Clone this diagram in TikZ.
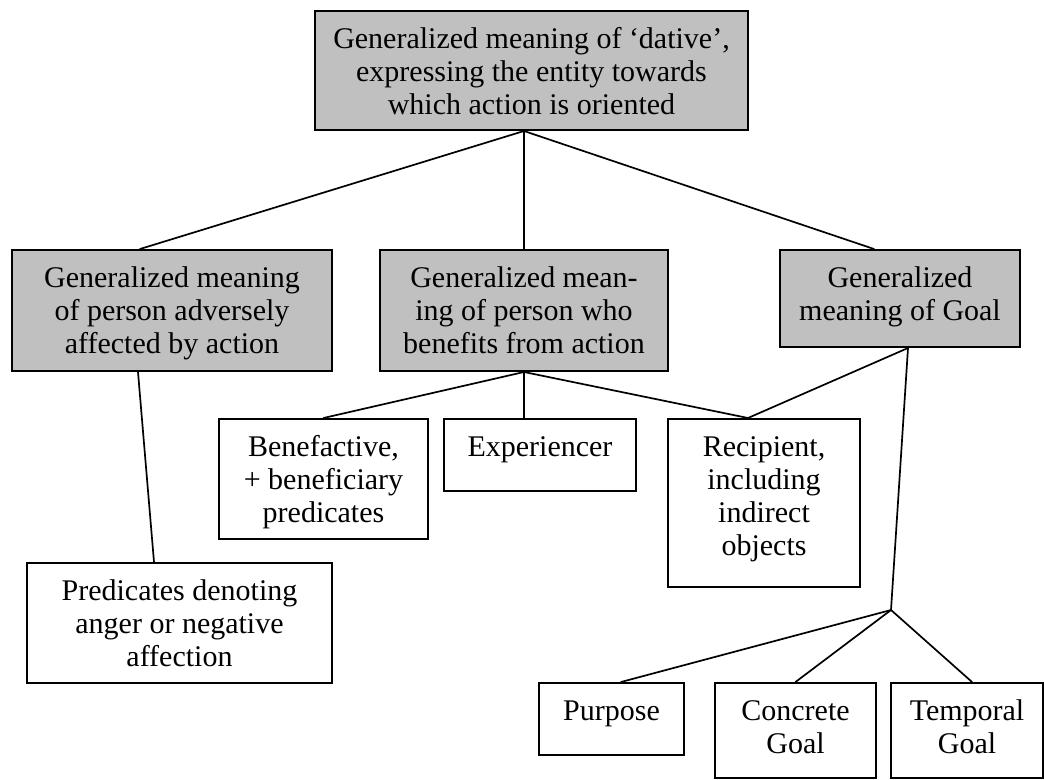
\documentclass[tikz,border=0pt]{standalone}
\usepackage{fontspec}
\setmainfont{Liberation Serif}
\definecolor{boxgray}{RGB}{192,192,192}
% box contents: width, height, text (set from the top of the box)
\newcommand\boxtext[3]{\parbox[c][#2pt][t]{#1pt}{\centering\rule{0pt}{37.5pt}#3}}
\tikzset{
  cell/.style={draw=black, line width=2pt, inner sep=0pt, anchor=north west,
    font=\fontsize{30}{33}\selectfont},
  shaded/.style={cell, fill=boxgray},
  plain/.style={cell, fill=white},
  link/.style={line width=1.7pt, line cap=round},
}
\begin{document}
\begin{tikzpicture}[x=1pt,y=-1pt]
\useasboundingbox (0,0) rectangle (1044,779);

% top level
\node[shaded] (top) at (314,10) {\boxtext{433}{119}{Generalized meaning of ‘dative’,\\expressing the entity towards\\which action is oriented}};

% second level
\node[shaded] (adv) at (11,249) {\boxtext{320}{121}{Generalized meaning\\of person adversely\\affected by action}};
\node[shaded] (ben) at (379,249) {\boxtext{288}{121}{Generalized mean-\\ing of person who\\benefits from action}};
\node[shaded] (goal) at (779,249) {\boxtext{240}{97}{Generalized\\meaning of Goal}};

% third level
\node[plain] (benef) at (218,418) {\boxtext{209}{120}{Benefactive,\\+ beneficiary\\predicates}};
\node[plain] (exper) at (443,418) {\boxtext{192}{72}{Experiencer}};
\node[plain] (recip) at (667,418) {\boxtext{192}{168}{Recipient,\\including\\indirect\\objects}};
\node[plain] (pred) at (26,562) {\boxtext{305}{120}{Predicates denoting\\anger or negative\\affection}};

% kinds of Goal
\node[plain] (purp) at (538,682) {\boxtext{145}{72}{Purpose}};
\node[plain] (conc) at (714,682) {\boxtext{161}{95}{Concrete\\Goal}};
\node[plain] (temp) at (890,682) {\boxtext{152}{95}{Temporal\\Goal}};

% branching points
\coordinate (hubtop) at (top.south -| ben.north);
\coordinate (hubgoal) at (891,610);

% connectors
\draw[link] (hubtop) -- ([xshift=129]adv.north west);
\draw[link] (hubtop) -- (ben.north);
\draw[link] (hubtop) -- ([xshift=-26]goal.north);

\draw[link] ([xshift=127]adv.south west) -- ([xshift=128]pred.north west);

\draw[link] (ben.south) -- (benef.north);
\draw[link] (ben.south) -- (ben.south |- exper.north);
\draw[link] (ben.south) -- ([xshift=-16]recip.north);

\draw[link] ([xshift=8]goal.south) -- ([xshift=-16]recip.north);
\draw[link] ([xshift=8]goal.south) -- (hubgoal);

\draw[link] (hubgoal) -- ([xshift=9.5]purp.north);
\draw[link] (hubgoal) -- (conc.north);
\draw[link] (hubgoal) -- ([xshift=5]temp.north);
\end{tikzpicture}
\end{document}
